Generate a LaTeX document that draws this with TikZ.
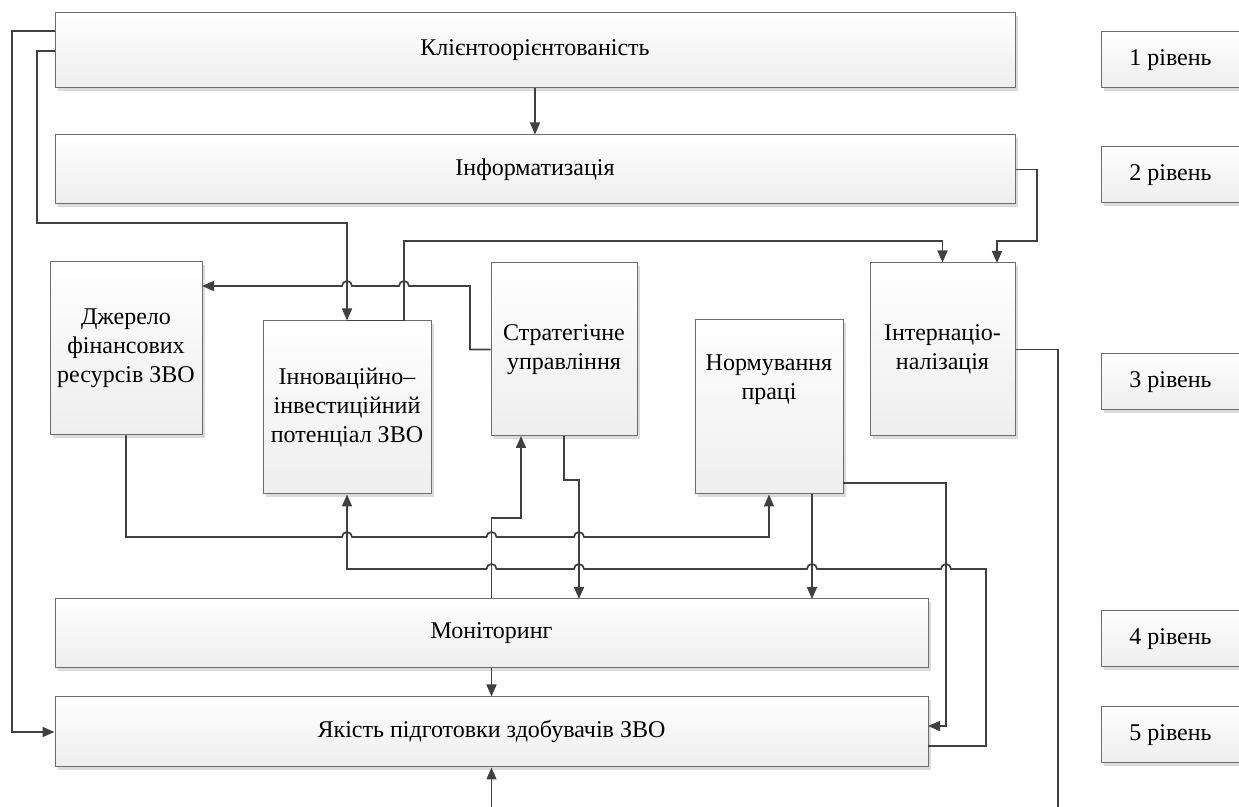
\documentclass[tikz,border=0pt]{standalone}
\usepackage{fontspec}
\setmainfont{Liberation Serif}
\usetikzlibrary{arrows.meta,shadows}
\definecolor{linec}{HTML}{404040}
\definecolor{boxline}{HTML}{6E6E6E}
\definecolor{boxbot}{HTML}{EEEEEE}
\tikzset{
  box/.style={draw=boxline, line width=0.5pt, rectangle, inner sep=2pt, align=center,
    top color=white, bottom color=boxbot,
    drop shadow={shadow xshift=1.5pt,shadow yshift=-1.5pt,fill=black!14,opacity=1},
    font=\fontsize{12}{14.5}\selectfont},
  lvl/.style={box, minimum width=69.5pt, minimum height=28pt},
  conn/.style={draw=linec, line width=0.85pt, -{Triangle[length=6pt,width=5pt]}},
  plainline/.style={draw=linec, line width=0.85pt},
}
\begin{document}
\begin{tikzpicture}[x=0.5pt,y=-0.5pt]
\useasboundingbox (0,0) rectangle (1239,807);
% boxes
\node[box, minimum width=480pt, minimum height=37.5pt] (klient) at (535,50.5) {Клієнтоорієнтованість};
\node[box, minimum width=480pt, minimum height=34.5pt] (inform) at (535,169.5) {Інформатизація};
\node[box, minimum width=76pt, minimum height=86.5pt] (dzherelo) at (126,348.5) {Джерело\\фінансових\\ресурсів ЗВО};
\node[box, minimum width=84pt, minimum height=86.5pt] (innov) at (347,407.5) {Інноваційно–\\інвестиційний\\потенціал ЗВО};
\node[box, minimum width=73pt, minimum height=86.5pt] (strat) at (564,349.5) {Стратегічне\\управління};
\node[box, minimum width=74pt, minimum height=87pt] (norm) at (769,407) {};
\node[font=\fontsize{12}{14.5}\selectfont, align=center, inner sep=0pt] (normt) at (769,380) {Нормування\\праці};
\node[box, minimum width=72.5pt, minimum height=86.5pt] (intern) at (942.5,349.5) {Інтернаціо-\\налізація};
\node[box, minimum width=436.5pt, minimum height=34.5pt] (monit) at (491.5,633.5) {Моніторинг};
\node[box, minimum width=436.5pt, minimum height=35pt] (jakist) at (491.5,732) {Якість підготовки здобувачів ЗВО};
% level boxes
\node[lvl] (l1) at (1170.5,60) {1 рівень};
\node[lvl] (l2) at (1170.5,175) {2 рівень};
\node[lvl] (l3) at (1170.5,382) {3 рівень};
\node[lvl] (l4) at (1170.5,639) {4 рівень};
\node[lvl] (l5) at (1170.5,735) {5 рівень};
% helper coordinates
\coordinate (bot) at (491.5,807);
\coordinate (botr) at (1058,807);
\coordinate (xa) at (12,0);
\coordinate (xb) at (37,0);
\coordinate (k1) at (55,31);
\coordinate (k2) at (55,51);
\coordinate (d1) at (202,286);
\coordinate (j1) at (928,746);
\coordinate (j2) at (928,726);
\coordinate (n1) at (843,483);
\coordinate (n2) at (812,494);
\coordinate (s1) at (521,436);
\coordinate (m1) at (579,599);
\coordinate (m2) at (812,599);
\coordinate (i1) at (997,263);
% connectors
\draw[conn] (klient.south) -- (inform.north);
\draw[conn] (k1) -| (xa |- jakist.west) -- (jakist.west);
\draw[conn] (k2) -| (37,223) -| (innov.north);
\draw[conn] (innov.north) -| (404,241) -| (intern.north);
\draw[conn] (inform.east) -| (1037,241) -| (i1);
\draw[conn] (strat.west) -| (470,286)
  -- (409,286) arc[start angle=0,end angle=180,radius=2.5pt]
  -- (352,286) arc[start angle=0,end angle=180,radius=2.5pt]
  -- (d1);
\draw[conn] (dzherelo.south) |- (342,537)
  arc[start angle=180,end angle=0,radius=2.5pt]
  -- (486.5,537) arc[start angle=180,end angle=0,radius=2.5pt]
  -- (574,537) arc[start angle=180,end angle=0,radius=2.5pt]
  -| (norm.south);
\draw[conn] (j1) -| (986,569)
  -- (951,569) arc[start angle=0,end angle=180,radius=2.5pt]
  -- (817,569) arc[start angle=0,end angle=180,radius=2.5pt]
  -- (584,569) arc[start angle=0,end angle=180,radius=2.5pt]
  -- (496.5,569) arc[start angle=0,end angle=180,radius=2.5pt]
  -| (innov.south);
\draw[conn] (monit.north) |- (521,518) -- (s1);
\draw[conn] (strat.south) |- (579,480) -- (m1);
\draw[conn] (n2) -- (m2);
\draw[conn] (n1) -| (946,726) -- (j2);
\draw[conn] (monit.south) -- (jakist.north);
\draw[conn] (bot) -- (jakist.south);
\draw[plainline] (intern.east) -| (botr);
\end{tikzpicture}
\end{document}
